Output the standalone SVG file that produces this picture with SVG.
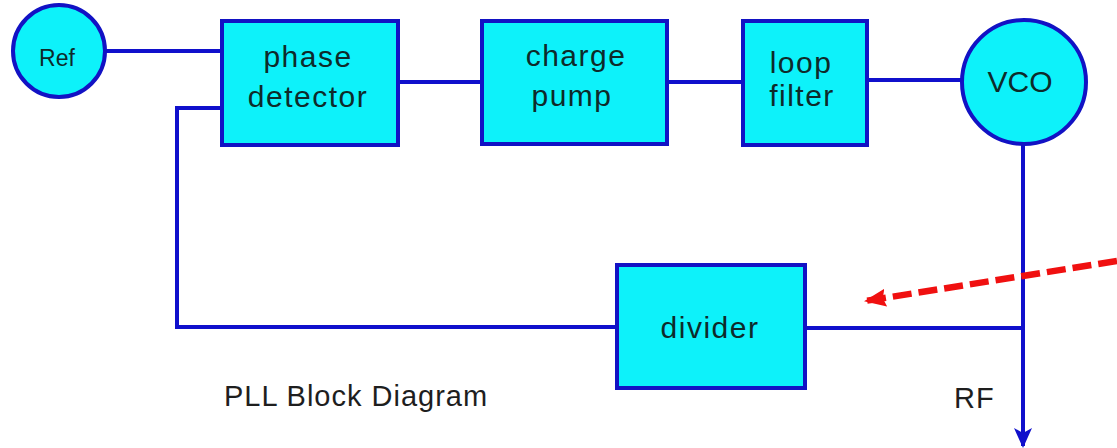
<svg xmlns="http://www.w3.org/2000/svg" width="1117" height="448" viewBox="0 0 1117 448">
  <defs>
    <style>
      .box { fill: #0df2fa; stroke: #1212c4; stroke-width: 4; }
      .wire { fill: none; stroke: #1010cc; stroke-width: 4; }
      .lbl { font-family: "Liberation Sans", Arial, sans-serif; font-size: 30px; fill: #0e2a2a; text-anchor: middle; letter-spacing: 1.5px; }
      .cap { font-family: "Liberation Sans", Arial, sans-serif; font-size: 29px; fill: #1e1e1e; letter-spacing: 1px; }
    </style>
    <marker id="blueHead" viewBox="0 0 20 20" refX="18" refY="10" markerWidth="20" markerHeight="20" markerUnits="userSpaceOnUse" orient="auto">
      <path d="M0,1 L20,10 L0,19 L5,10 Z" fill="#1010cc"/>
    </marker>
    <marker id="redHead" viewBox="0 0 22 20" refX="21" refY="10" markerWidth="22" markerHeight="20" markerUnits="userSpaceOnUse" orient="auto">
      <path d="M0,1 L22,10 L0,19 L3,10 Z" fill="#f01010"/>
    </marker>
  </defs>

  <g id="connectors">
    <line class="wire" x1="105" y1="51" x2="222" y2="51"/>
    <line class="wire" x1="398" y1="82" x2="482" y2="82"/>
    <line class="wire" x1="667" y1="82" x2="743" y2="82"/>
    <line class="wire" x1="867" y1="80" x2="962" y2="80"/>
    <line class="wire" x1="1023" y1="144" x2="1023" y2="446" marker-end="url(#blueHead)"/>
    <line class="wire" x1="805" y1="328" x2="1023" y2="328"/>
    <polyline class="wire" points="617,327 177,327 177,108 222,108"/>
    <line x1="1117" y1="261" x2="865" y2="301" stroke="#f01010" stroke-width="6.5" stroke-dasharray="19,7" marker-end="url(#redHead)"/>
  </g>

  <g id="ref">
    <circle class="box" cx="59" cy="51" r="46"/>
    <text x="57" y="66" font-family="Liberation Sans, Arial, sans-serif" font-size="23" fill="#0e2a2a" text-anchor="middle">Ref</text>
  </g>

  <g id="phase-detector">
    <rect class="box" x="222" y="21" width="176" height="124"/>
    <text class="lbl" x="308" y="67">phase</text>
    <text class="lbl" x="308" y="107">detector</text>
  </g>

  <g id="charge-pump">
    <rect class="box" x="482" y="21" width="185" height="123"/>
    <text class="lbl" x="576" y="66">charge</text>
    <text class="lbl" x="572" y="106">pump</text>
  </g>

  <g id="loop-filter">
    <rect class="box" x="743" y="21" width="124" height="124"/>
    <text class="lbl" x="801" y="73">loop</text>
    <text class="lbl" x="802" y="106">filter</text>
  </g>

  <g id="vco">
    <circle class="box" cx="1024" cy="82" r="62"/>
    <text x="1020" y="92" font-family="Liberation Sans, Arial, sans-serif" font-size="30" fill="#0e2a2a" text-anchor="middle">VCO</text>
  </g>

  <g id="divider">
    <rect class="box" x="617" y="265" width="188" height="123"/>
    <text class="lbl" x="710" y="338" letter-spacing="0.5">divider</text>
  </g>

  <g id="captions">
    <text class="cap" x="224" y="406">PLL Block Diagram</text>
    <text class="cap" x="954" y="408" letter-spacing="0">RF</text>
  </g>
</svg>
